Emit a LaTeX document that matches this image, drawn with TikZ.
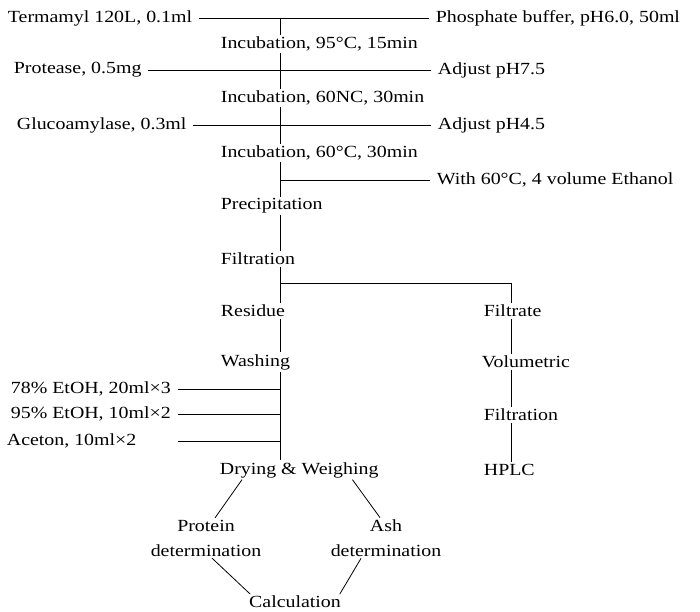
\documentclass[tikz,border=0pt]{standalone}
\usepackage{fontspec}
\setmainfont{Liberation Serif}[FakeStretch=1.17]
\begin{document}
\begin{tikzpicture}[x=1pt, y=-1pt, line width=0.8pt, every node/.style={inner sep=1.5pt, font=\fontsize{17}{25}\selectfont}, step node/.style={anchor=west}, feed/.style={shorten <=5pt, shorten >=5pt}]
	\useasboundingbox (0,0) rectangle (700,611);
	\coordinate (spine) at (280,0);
	\coordinate (rspine) at (511,0);
	\node[step node] (term) at (6,18) {Termamyl 120L, 0.1ml};
	\node[step node] (phos) at (434,18) {Phosphate buffer, pH6.0, 50ml};
	\node[step node] (inc1) at (219,44) {Incubation, 95°C, 15min};
	\node[step node] (prot) at (12,70) {Protease, 0.5mg};
	\node[step node] (adj1) at (436,70) {Adjust pH7.5};
	\node[step node] (inc2) at (219,98) {Incubation, 60NC, 30min};
	\node[step node] (gluc) at (15,125) {Glucoamylase, 0.3ml};
	\node[step node] (adj2) at (436,125) {Adjust pH4.5};
	\node[step node] (inc3) at (219,153) {Incubation, 60°C, 30min};
	\node[step node] (etoh) at (435,180) {With 60°C, 4 volume Ethanol};
	\node[step node] (prec) at (219,206) {Precipitation};
	\node[step node] (filt) at (219,259) {Filtration};
	\node[step node] (resi) at (219,311) {Residue};
	\node[step node] (ftrt) at (482,311) {Filtrate};
	\node[step node] (wash) at (219,362) {Washing};
	\node[step node] (volu) at (480,362) {Volumetric};
	\node[step node] (w78) at (9,389) {78\% EtOH, 20ml×3};
	\node[step node] (w95) at (9,414) {95\% EtOH, 10ml×2};
	\node[step node] (acet) at (5,441) {Aceton, 10ml×2};
	\node[step node] (filt2) at (482,415) {Filtration};
	\node[step node] (dry) at (218,470) {Drying \& Weighing};
	\node[step node] (hplc) at (482,470) {HPLC};
	\node[align=center] (protd) at (206,538) {Protein\\determination};
	\node[align=center] (ashd) at (386,538) {Ash\\determination};
	\node (calc) at (295,602) {Calculation};
	\draw[feed] (term) -- (phos);
	\draw[feed] (prot) -- (adj1);
	\draw[feed] (gluc) -- (adj2);
	\draw[shorten >=5pt] (spine |- etoh) -- (etoh);
	\draw (spine |- term) -- (spine |- inc1.north);
	\draw (spine |- inc1.south) -- (spine |- inc2.north);
	\draw (spine |- inc2.south) -- (spine |- inc3.north);
	\draw (spine |- inc3.south) -- (spine |- prec.north);
	\draw (spine |- prec.south) -- (spine |- filt.north);
	\draw (spine |- filt.south) -- (spine |- resi.north);
	\draw (spine |- 0,283) -| (rspine |- ftrt.north);
	\draw (spine |- resi.south) -- (spine |- wash.north);
	\draw (spine |- wash.south) -- (spine |- dry.north);
	\draw[shorten <=5pt] (w78) -- (spine |- w78);
	\draw[shorten <=5pt] (w95) -- (spine |- w95);
	\draw[shorten <=5pt] (w95.east |- acet) -- (spine |- acet);
	\draw (rspine |- ftrt.south) -- (rspine |- volu.north);
	\draw (rspine |- volu.south) -- (rspine |- filt2.north);
	\draw (rspine |- filt2.south) -- (rspine |- hplc.north);
	\draw ([xshift=24]dry.south west) -- ([xshift=9]protd.north);
	\draw ([xshift=-28]dry.south east) -- ([xshift=-6]ashd.north);
	\draw ([xshift=6]protd.south) -- ([xshift=3]calc.north west);
	\draw ([xshift=-25]ashd.south) -- ([xshift=-3]calc.north east);
\end{tikzpicture}
\end{document}
